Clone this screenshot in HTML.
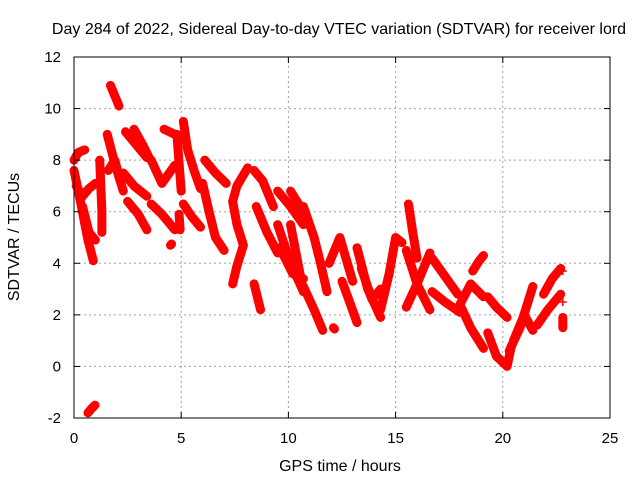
<!DOCTYPE html>
<html><head><meta charset="utf-8"><style>
body{margin:0;background:#fff}
svg{display:block;font-family:"Liberation Sans",sans-serif}
</style></head><body>
<svg id="c" width="640" height="480">
<text x="339" y="34" text-anchor="middle" font-size="16">Day 284 of 2022, Sidereal Day-to-day VTEC variation (SDTVAR) for receiver lord</text>
<text x="340" y="471" text-anchor="middle" font-size="16">GPS time / hours</text>
<text transform="translate(19,237) rotate(-90)" text-anchor="middle" font-size="16">SDTVAR / TECUs</text>
<g id="grid"></g><g id="marks"></g><g id="axes"></g>
</svg>
<script>
const xTicks=[0,5,10,15,20,25];
const yTicks=[-2,0,2,4,6,8,10,12];
const tracks=[
[[0,8.0],[0.2,8.3],[0.5,8.4]],
[[0,7.6],[0.3,6.4],[0.65,4.9],[0.9,4.1]],
[[0.1,7.0],[0.4,6.6],[0.7,6.9],[1.0,7.1]],
[[0.4,6.2],[0.7,5.2],[1.0,4.9]],
[[0.65,-1.8],[0.8,-1.65],[0.98,-1.5]],
[[1.2,8.0],[1.25,7.0],[1.3,6.0],[1.3,5.2]],
[[1.55,9.0],[1.8,8.2],[2.0,7.6],[2.3,6.8]],
[[1.6,7.6],[1.9,8.0],[2.1,7.4]],
[[1.7,10.9],[1.9,10.5],[2.1,10.1]],
[[2.4,9.1],[2.9,8.6],[3.4,8.1]],
[[2.8,9.2],[3.2,8.6],[3.5,8.1]],
[[2.3,7.5],[2.8,7.0],[3.4,6.6]],
[[2.5,6.4],[3.0,5.9],[3.4,5.3]],
[[3.6,8.0],[4.1,7.1],[4.7,7.8]],
[[3.6,6.3],[4.1,5.9],[4.7,5.3]],
[[4.2,9.2],[4.7,9.0]],
[[4.5,4.7],[4.55,4.75]],
[[4.8,9.0],[4.9,7.9],[5.0,6.8]],
[[5.1,9.5],[5.3,8.4],[5.6,7.6],[5.9,6.9]],
[[4.9,5.9],[4.95,5.3]],
[[5.1,6.3],[5.5,5.8],[5.9,5.4]],
[[6.1,8.0],[6.6,7.5],[7.1,7.1]],
[[6.0,7.1],[6.3,6.0],[6.6,5.0],[7.0,4.5]],
[[8.1,7.7],[7.6,7.0],[7.4,6.4],[7.6,5.5],[7.9,4.7],[7.6,3.9],[7.4,3.2]],
[[8.4,7.6],[8.8,7.2],[9.3,6.2]],
[[8.5,6.2],[9.0,5.2],[9.5,4.4]],
[[8.4,3.2],[8.7,2.2]],
[[9.5,6.8],[10.1,6.2],[10.7,5.5]],
[[9.5,5.5],[10.1,4.0],[10.7,2.9]],
[[9.6,4.6],[10.2,3.6],[10.7,3.4]],
[[10.1,6.8],[10.7,6.0]],
[[10.7,6.2],[11.2,5.0],[11.5,4.0],[11.8,2.9]],
[[10.1,5.5],[10.4,4.2],[10.7,2.9]],
[[10.7,3.1],[11.2,2.2],[11.6,1.4]],
[[12.1,1.5],[12.15,1.45]],
[[11.9,4.0],[12.4,5.0],[13.0,3.3]],
[[12.5,3.3],[12.9,2.4],[13.2,1.7]],
[[13.2,4.6],[13.7,3.0],[14.3,1.9]],
[[13.4,3.8],[13.9,2.6],[14.3,3.0]],
[[14.3,2.2],[14.7,3.6],[15.0,5.0],[15.3,4.8]],
[[15.6,6.3],[15.8,5.2],[16.0,4.2]],
[[15.5,4.5],[16.0,3.2],[16.6,2.2]],
[[15.5,2.3],[16.0,3.2],[16.6,4.4]],
[[16.7,4.2],[17.3,3.5],[17.9,2.8]],
[[16.7,2.9],[17.3,2.5],[18.0,2.1]],
[[18.6,3.7],[18.9,4.1],[19.1,4.3]],
[[18.0,2.4],[18.5,3.2],[19.1,2.7]],
[[18.0,2.4],[18.5,1.5],[19.1,0.7]],
[[19.3,2.7],[19.7,2.3],[20.2,1.9]],
[[19.3,1.3],[19.7,0.4],[20.2,0.0],[20.4,0.8]],
[[20.3,0.6],[20.8,1.5],[21.1,2.3],[21.4,3.1]],
[[20.5,1.0],[21.0,2.0],[21.4,1.4]],
[[21.6,1.6],[22.1,2.2],[22.7,2.8]],
[[21.9,2.8],[22.3,3.4],[22.7,3.8]],
[[22.8,3.7]],[[22.8,2.5]],[[22.8,1.9],[22.8,1.5]]
];
const X0=74,X1=610,Y0=418,Y1=57;
const sx=t=>X0+(t-0)/(25-0)*(X1-X0);
const sy=v=>Y0-(v-(-2))/(12-(-2))*(Y0-Y1);
const NS='http://www.w3.org/2000/svg';
function mk(tag,at,parent){const e=document.createElementNS(NS,tag);for(const k in at)e.setAttribute(k,at[k]);parent.appendChild(e);return e;}
const grid=document.getElementById('grid'),axes=document.getElementById('axes'),marks=document.getElementById('marks');
xTicks.forEach(t=>{const x=sx(t);
 if(t>0&&t<25){const g=mk('line',{x1:x,x2:x,y1:Y0,y2:Y1,stroke:'#a0a0a0','stroke-dasharray':'2,3'},grid);
 
 }
 const l=mk('text',{x:x,y:Y0+25,'text-anchor':'middle','font-size':15},axes);l.textContent=t;
 
 
 mk('line',{x1:x,x2:x,y1:Y0,y2:Y0-6,stroke:'#000'},axes);mk('line',{x1:x,x2:x,y1:Y1,y2:Y1+6,stroke:'#000'},axes);
});
yTicks.forEach(v=>{const y=sy(v);
 if(v>-2&&v<12){const g=mk('line',{x1:X0,x2:X1,y1:y,y2:y,stroke:'#a0a0a0','stroke-dasharray':'2,3'},grid);
 
 }
 const l=mk('text',{x:X0-13,y:y+5,'text-anchor':'end','font-size':15},axes);l.textContent=v;
 
 
 mk('line',{x1:X0,x2:X0+6,y1:y,y2:y,stroke:'#000'},axes);mk('line',{x1:X1,x2:X1-6,y1:y,y2:y,stroke:'#000'},axes);
});
const fr=mk('rect',{x:X0,y:Y1,width:X1-X0,height:Y0-Y1,fill:'none',stroke:'#000'},axes);


tracks.forEach(tr=>{
 const pl=mk('polyline',{points:tr.map(p=>sx(p[0])+','+sy(p[1])).join(' '),fill:'none',stroke:'#ff0000','stroke-width':9,'stroke-linecap':'round','stroke-linejoin':'round'},marks);
 
 
 tr.forEach(p=>{const x=sx(p[0]),y=sy(p[1]);
  const m=mk('path',{d:`M${x-4},${y}H${x+4}M${x},${y-4}V${y+4}`,stroke:'#ff0000','stroke-width':1.5},marks);
  
  
 });
});
</script>
</body></html>
